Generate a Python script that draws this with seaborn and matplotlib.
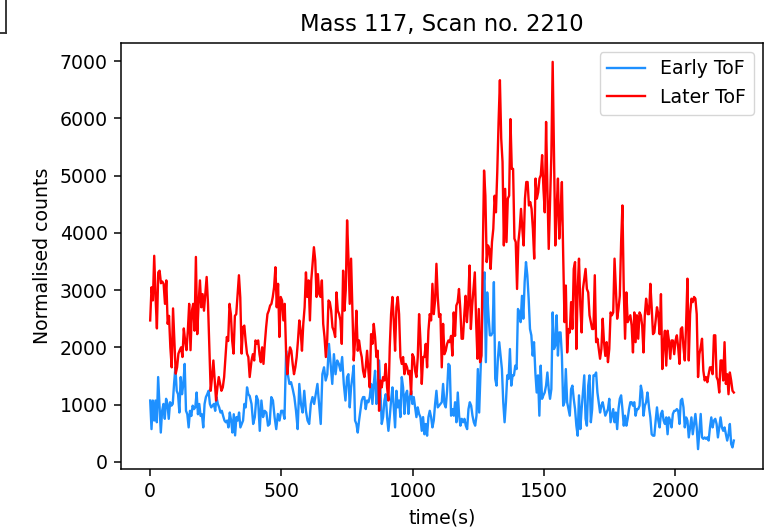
import numpy as np
import pandas as pd
import matplotlib
matplotlib.use("Agg")
import matplotlib.pyplot as plt
from matplotlib.lines import Line2D
import seaborn as sns

# time spans (s) covered by each block of readings
seg_start = [0, 386, 755, 1141, 1523, 1895]
seg_end = [379, 750, 1136, 1518, 1894, 2223]

# Later ToF (red) readings
red_a = [2470, 3050, 2820, 3600, 2880, 2330, 3310, 3340, 3120, 3150, 3110, 2760, 3170, 2410, 2550, 2000,
         1650, 2680, 2110, 1540, 1650, 1890, 1950, 2000, 1830, 2330, 2110, 1950, 2290, 2760, 1950, 2640,
         2760, 2290, 3580, 2230, 2760, 3170, 2700, 2930, 2640, 2930, 3230, 2760, 2000, 1240, 1480, 1770,
         1420, 1070, 1300, 1480, 1360, 1240, 1300, 1480, 1830, 2180, 2110, 2760, 2580, 2110, 1890, 2550,
         2580, 2930, 3260, 2870, 1890, 2350, 2380, 2110, 1890, 1830, 1480]
red_b = [1770, 1880, 1770, 2120, 2060, 2120, 1880, 1740, 2000, 1710, 2060, 2350, 2580, 2640, 2730, 2760,
         2880, 3050, 3400, 2700, 3110, 2180, 2880, 2820, 2470, 2760, 1940, 1530, 1830, 2000, 1940, 1710,
         1530, 1650, 1830, 2120, 2470, 2290, 1940, 2410, 2700, 3310, 2880, 3170, 2470, 3170, 3460, 3750,
         3520, 2880, 3280, 2930, 2880, 3170, 2410, 2180, 1830, 2120, 2820, 2790, 2640, 2350, 2290, 2180,
         2960, 2640, 2580, 2470, 2060, 3340, 2640, 3000, 4220]
red_c = [3575, 2760, 3550, 2640, 1770, 2120, 2640, 1940, 2120, 1940, 1830, 1590, 1480, 1650, 1940, 1590,
         1300, 2230, 2060, 2410, 2180, 1830, 1940, 890, 1420, 1300, 1480, 1420, 1710, 1300, 1070, 2000,
         2580, 2880, 2470, 1940, 2700, 2880, 2580, 1830, 1710, 1830, 1530, 1710, 1650, 1530, 1590, 1180,
         1880, 1830, 1590, 1480, 1830, 2580, 2120, 1360, 1830, 1830, 2060, 1650, 2290, 2580, 2470, 3110,
         2580, 2820, 3460, 2880, 2530, 2580, 1650, 2410, 1880, 1940, 2060, 2120]
red_d = [2090, 2200, 1855, 2610, 2200, 2730, 2790, 3020, 2670, 2150, 2150, 2560, 2900, 2440, 2790, 3430,
         2320, 2730, 3020, 3310, 2440, 1800, 2670, 1740, 1855, 3600, 5090, 4650, 3490, 3780, 3720, 3370,
         3840, 4070, 4650, 4360, 5060, 5940, 6670, 5650, 5240, 3780, 4770, 3840, 4600, 4650, 5990, 5120,
         5120, 3900, 3840, 3020, 3840, 4070, 4420, 4070, 3780, 4600, 4890, 4890, 4480, 4540, 4420, 4070,
         3550, 4950, 4600, 4710, 4950, 5010, 5360, 4770, 4360, 5940, 4770, 3720]
red_e = [4540, 5355, 6990, 5355, 3780, 4420, 4950, 3900, 4360, 4890, 3600, 2440, 3080, 1910, 2320, 2260,
         2790, 2320, 3370, 3490, 1970, 3020, 3550, 2730, 2260, 3020, 3200, 3370, 3020, 2960, 2560, 2440,
         2320, 2320, 3260, 2090, 2150, 1970, 1800, 1970, 2500, 2090, 1850, 2090, 1740, 1970, 2610, 2560,
         2610, 3550, 3020, 2500, 2670, 2900, 3840, 4480, 3020, 2150, 2960, 2440, 2500, 2560, 2380, 1910,
         2610, 2090, 2560, 2150, 2610, 2560, 2380, 1910, 2560, 2850, 2670]
red_f = [2580, 2580, 3110, 2700, 2230, 2260, 2470, 2700, 2580, 2230, 2930, 1620, 2060, 2290, 1680, 2290,
         2120, 1800, 2120, 2120, 1880, 2120, 2210, 2000, 1710, 2320, 2350, 2000, 1770, 2410, 3200, 1770,
         2580, 2850, 2790, 2880, 2850, 2580, 1480, 1880, 2000, 2150, 1590, 1420, 1480, 1390, 1530, 1650,
         1650, 1530, 2210, 2210, 1480, 1420, 1210, 1770, 1770, 1420, 2090, 1360, 1530, 1180, 1560, 1420,
         1240, 1210]

# Early ToF (blue) readings
blue_a = [1070, 570, 1070, 720, 1070, 690, 1480, 1010, 510, 890, 1010, 750, 1100, 1010, 750, 1040, 980,
          1010, 1360, 1650, 1240, 1180, 860, 1480, 1180, 1360, 1710, 890, 830, 600, 890, 800, 980, 920,
          950, 1210, 830, 1010, 800, 830, 600, 1010, 1130, 1180, 1240, 1010, 950, 980, 1010, 890, 1130,
          1010, 950, 860, 890, 800, 720, 690, 720, 600, 860, 720, 510, 830, 460, 780, 720, 860, 600, 660,
          720, 1010, 950, 1300, 1180, 1150]
blue_b = [1010, 660, 780, 1150, 1070, 540, 1070, 780, 890, 860, 630, 660, 1130, 1070, 780, 570, 835, 720,
          890, 890, 750, 1940, 1530, 1360, 1390, 1270, 1130, 890, 570, 1360, 1010, 860, 1240, 890, 720,
          660, 1010, 1130, 1010, 1180, 1360, 1010, 660, 1530, 1650, 1420, 1530, 2060, 1710, 1360, 1880,
          1530, 1770, 1710, 1590, 1830, 1360, 1070, 1480]
blue_c = [1530, 950, 1300, 1480, 1680, 720, 660, 510, 720, 890, 1070, 1130, 1130, 920, 1070, 1040, 1130,
          1360, 1010, 1360, 1590, 1010, 1300, 1770, 1240, 660, 780, 1070, 1180, 780, 540, 780, 1070, 1300,
          950, 600, 1240, 950, 1070, 780, 1480, 1300, 835, 1180, 1240, 835, 1130, 1240, 1010, 1130, 950,
          780, 950, 835, 780, 540, 780, 480, 660, 455, 780, 890, 780, 600, 720, 1010, 1240, 950, 980, 1010,
          1040, 1360, 1010, 950, 1240, 1710]
blue_d = [1680, 805, 920, 805, 1040, 690, 1210, 805, 630, 750, 690, 750, 630, 570, 920, 1040, 980, 805,
          690, 630, 805, 1620, 860, 1560, 2150, 3020, 3310, 1740, 2960, 2560, 2210, 2210, 2260, 3140, 1450,
          1330, 1800, 2090, 1855, 1620, 1040, 690, 1040, 1510, 1450, 1970, 1330, 1510, 1510, 1680, 1620,
          2670, 2610, 2440, 2900, 2500, 3140, 3490, 3260, 2850, 2320, 2210, 1855, 2090, 1560, 1210, 1510,
          805, 1680, 1100, 1160, 1210, 1330, 1560, 1270]
blue_e = [1100, 1270, 2610, 1970, 2030, 2560, 1855, 2260, 2260, 1855, 980, 1040, 1620, 1040, 920, 805,
          1270, 1330, 1100, 920, 630, 455, 1160, 570, 920, 1210, 1510, 750, 630, 1330, 1510, 690, 920, 1510,
          1510, 1560, 1210, 1040, 860, 980, 1040, 920, 805, 860, 920, 1100, 690, 805, 920, 690, 860, 570,
          920, 1100, 1160, 920, 630, 805, 630, 750, 920, 1040, 1040, 980, 1040, 805, 920, 920, 980, 1330,
          1210, 805, 980, 1040, 1210]
blue_f = [1180, 950, 775, 480, 455, 455, 720, 950, 720, 600, 835, 890, 720, 660, 775, 480, 775, 720, 600,
          835, 890, 890, 920, 890, 660, 1070, 1100, 950, 600, 775, 720, 425, 600, 775, 480, 660, 835, 600,
          220, 540, 835, 425, 400, 425, 400, 425, 370, 600, 775, 600, 720, 750, 660, 425, 600, 775, 600,
          540, 600, 480, 370, 480, 660, 310, 250, 370]

series_names = ["Early ToF", "Later ToF"]
series_colors = ["dodgerblue", "red"]


def build(blocks):
    t = np.concatenate([np.linspace(a, b, len(v)) for a, b, v in zip(seg_start, seg_end, blocks)])
    y = np.concatenate([np.asarray(v, float) for v in blocks])
    return t, y


t_b, y_b = build([blue_a, blue_b, blue_c, blue_d, blue_e, blue_f])
t_r, y_r = build([red_a, red_b, red_c, red_d, red_e, red_f])

df = pd.concat([
    pd.DataFrame({"time": t_b, "counts": y_b, "series": series_names[0]}),
    pd.DataFrame({"time": t_r, "counts": y_r, "series": series_names[1]}),
], ignore_index=True)

S = 1.36  # the reference is a scaled-up default matplotlib rendering
plt.rcParams.update({
    "font.size": 10 * S,
    "axes.linewidth": 0.8 * S,
    "xtick.major.size": 3.5 * S,
    "ytick.major.size": 3.5 * S,
    "xtick.major.width": 0.8 * S,
    "ytick.major.width": 0.8 * S,
    "xtick.major.pad": 3.5 * S,
    "ytick.major.pad": 3.5 * S,
    "axes.labelpad": 4.0 * S,
    "axes.titlepad": 6.0 * S,
})

fig = plt.figure(figsize=(7.69, 5.27), dpi=100)
ax = fig.add_axes([121 / 769, (527 - 468.5) / 527, (763 - 121) / 769, (468.5 - 42.5) / 527])

for name, color in zip(series_names, series_colors):
    sub = df[df["series"] == name]
    sns.lineplot(data=sub, x="time", y="counts", ax=ax, color=color, label=name,
                 estimator=None, sort=False, linewidth=1.7)

ax.set_title("Mass 117, Scan no. 2210", fontsize=12 * S)
ax.set_xlabel("time(s)", fontsize=10 * S)
ax.set_ylabel("Normalised counts", fontsize=10 * S)
ax.set_xticks([0, 500, 1000, 1500, 2000])
ax.set_yticks([0, 1000, 2000, 3000, 4000, 5000, 6000, 7000])
ax.tick_params(labelsize=10 * S)
ax.legend(loc="upper right", fontsize=10 * S)

# stray frame corner visible at the top-left of the reference
fig.add_artist(Line2D([5.5 / 769, 5.5 / 769], [1.0, 1 - 32.5 / 527], transform=fig.transFigure,
                      color="#333333", linewidth=1.0 * S))
fig.add_artist(Line2D([0, 5.5 / 769], [1 - 32.5 / 527, 1 - 32.5 / 527], transform=fig.transFigure,
                      color="#333333", linewidth=1.0 * S))

fig.savefig("out.png", dpi=100)
